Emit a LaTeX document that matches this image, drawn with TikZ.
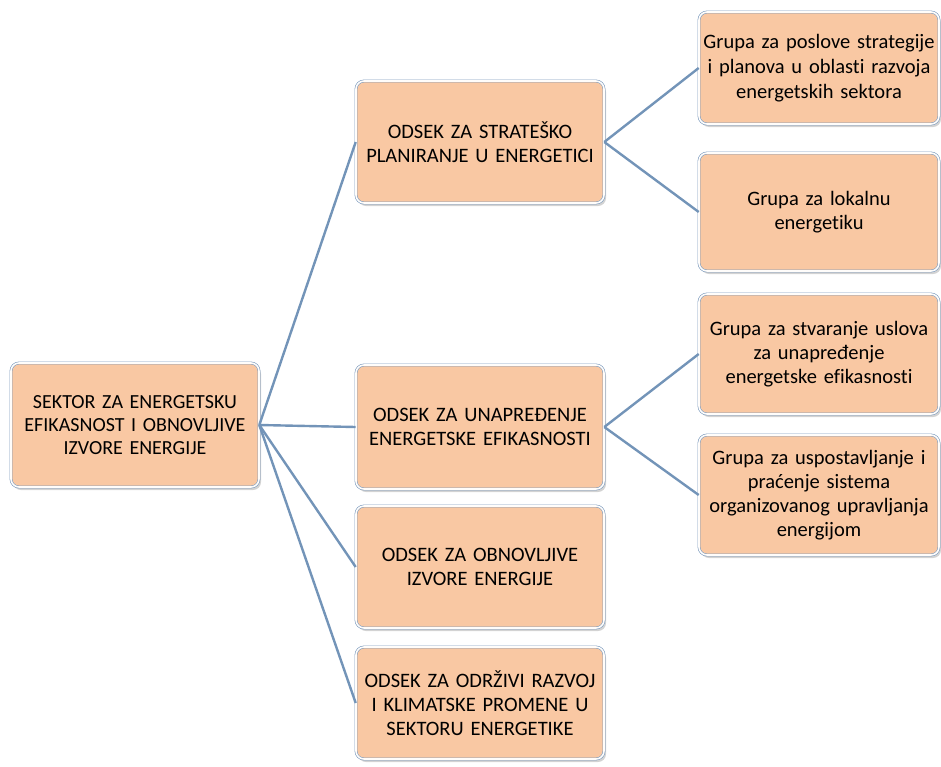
\documentclass[tikz,border=0pt]{standalone}
\usepackage{fontspec}
\setmainfont{Carlito}[Ligatures=NoCommon]
\usetikzlibrary{shadows}
\definecolor{peach}{HTML}{F9C8A3}
\definecolor{rim}{HTML}{7F9DBF}
\definecolor{link}{HTML}{7394B8}
\tikzset{
  box/.style={rectangle, rounded corners=8pt, fill=peach, draw=rim, double=white!96!peach,
    double distance=1.6pt, line width=0.6pt,
    drop shadow={opacity=0.35, shadow xshift=2pt, shadow yshift=-3pt},
    align=center, inner sep=2pt, font=\fontsize{20.5}{24}\selectfont},
  link/.style={draw=link, line width=2.4pt}
}
\begin{document}
\begin{tikzpicture}[x=1pt,y=-1pt]
\useasboundingbox (0,0) rectangle (941,766);
\node[box, minimum width=248pt, minimum height=124pt, text width=244pt, font=\fontsize{20}{23}\selectfont] (root) at (135,425)
  {SEKTOR ZA ENERGETSKU\\EFIKASNOST I OBNOVLJIVE\\IZVORE ENERGIJE};
\node[box, minimum width=248pt, minimum height=122pt, text width=244pt] (o1) at (480,142)
  {ODSEK ZA STRATEŠKO\\PLANIRANJE U ENERGETICI};
\node[box, minimum width=248pt, minimum height=124pt, text width=244pt] (o2) at (480,427)
  {ODSEK ZA UNAPREĐENJE\\ENERGETSKE EFIKASNOSTI};
\node[box, minimum width=248pt, minimum height=122pt, text width=244pt] (o3) at (480,567)
  {ODSEK ZA OBNOVLJIVE\\IZVORE ENERGIJE};
\node[box, minimum width=248pt, minimum height=112pt, text width=244pt] (o4) at (480,703)
  {ODSEK ZA ODRŽIVI RAZVOJ\\I KLIMATSKE PROMENE U\\SEKTORU ENERGETIKE};
\node[box, minimum width=238pt, minimum height=112pt, text width=236pt, font=\fontsize{20.5}{25}\selectfont] (g1) at (819,68)
  {Grupa za poslove strategije\\i planova u oblasti razvoja\\energetskih sektora};
\node[box, minimum width=238pt, minimum height=118pt, text width=236pt] (g2) at (819,212)
  {Grupa za lokalnu\\energetiku};
\node[box, minimum width=238pt, minimum height=120pt, text width=236pt] (g3) at (819,354)
  {Grupa za stvaranje uslova\\za unapređenje\\energetske efikasnosti};
\node[box, minimum width=238pt, minimum height=120pt, text width=236pt] (g4) at (819,495)
  {Grupa za uspostavljanje i\\praćenje sistema\\organizovanog upravljanja\\energijom};
\draw[link] (root.east) -- (o1.west);
\draw[link] (root.east) -- (o2.west);
\draw[link] (root.east) -- (o3.west);
\draw[link] (root.east) -- (o4.west);
\draw[link] (o1.east) -- (g1.west);
\draw[link] (o1.east) -- (g2.west);
\draw[link] (o2.east) -- (g3.west);
\draw[link] (o2.east) -- (g4.west);
\end{tikzpicture}
\end{document}
